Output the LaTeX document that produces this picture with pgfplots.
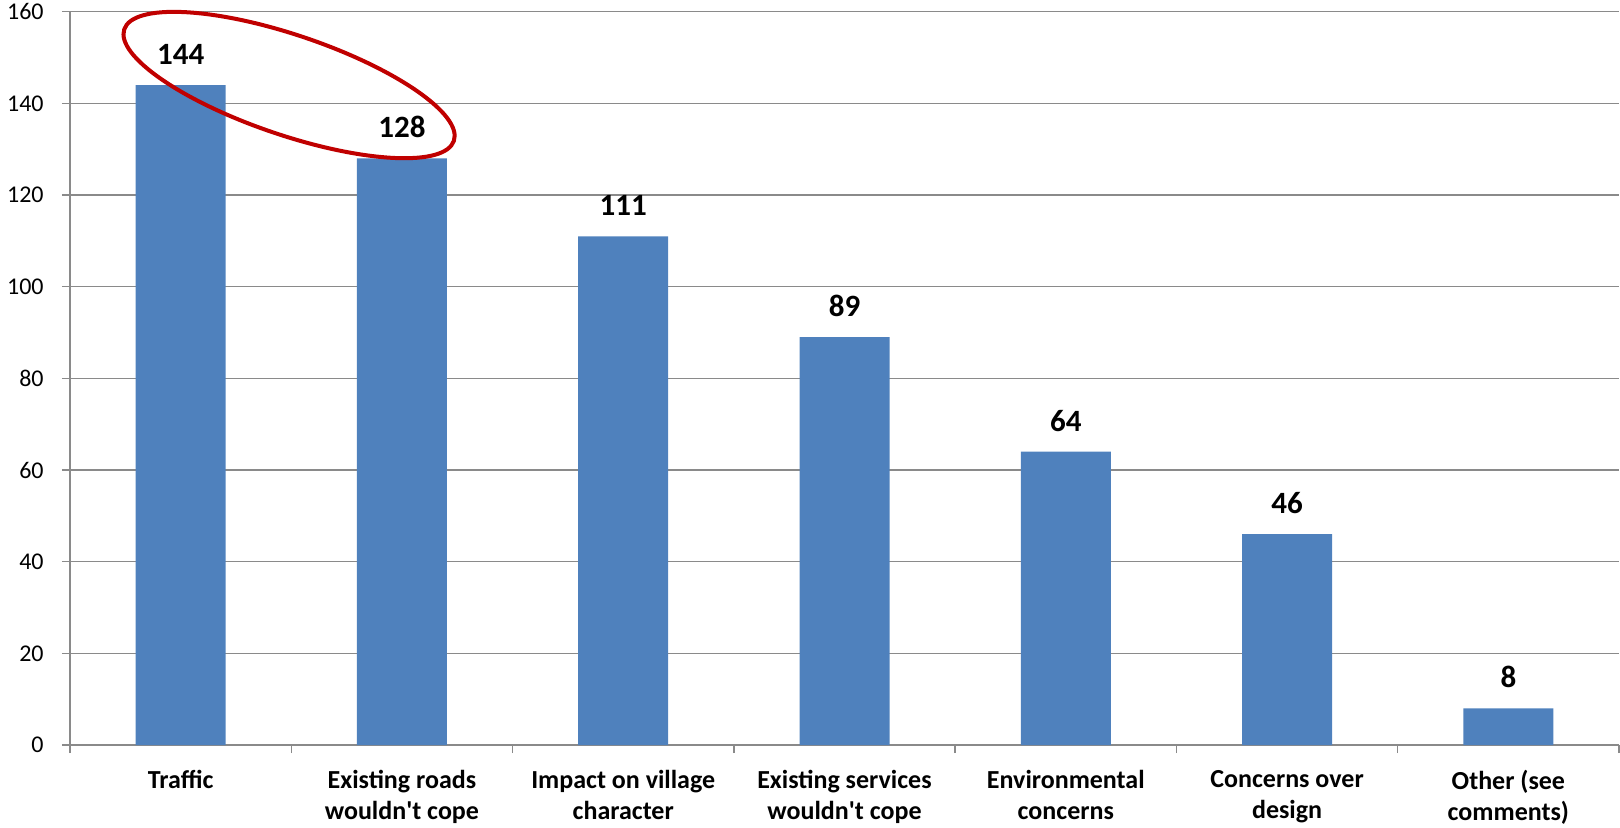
\documentclass[border=0pt]{standalone}
\usepackage{fontspec}
\setmainfont{Carlito}
\usepackage{pgfplots}
\pgfplotsset{compat=1.18}
\definecolor{barblue}{HTML}{4F81BD}
\definecolor{gridgray}{HTML}{8A8A8A}
\definecolor{ringred}{HTML}{C00000}
\begin{document}
\begin{tikzpicture}
\begin{axis}[
    scale only axis,
    width=774.5pt, height=366.7pt,
    ybar, bar width=45pt,
    xmin=-0.5, xmax=6.5,
    ymin=0, ymax=160,
    ytick={0,20,...,160},
    xtick={0,...,6},
    xticklabels={Traffic,
        Existing roads\\wouldn\textquotesingle t cope,
        Impact on village\\character,
        Existing services\\wouldn\textquotesingle t cope,
        Environmental\\concerns,
        Concerns over\\design,
        Other (see\\comments)},
    minor xtick={-0.5,0.5,...,6.5},
    major x tick style={draw=none},
    axis x line*=bottom, axis y line*=left,
    axis line style={gridgray, line width=0.75pt},
    ymajorgrids, grid style={gridgray, line width=0.75pt},
    tick align=outside,
    tick style={gridgray, line width=0.75pt},
    major tick length=4pt, minor tick length=4pt,
    /pgf/number format/assume math mode=true,
    yticklabel style={font=\fontsize{12}{14}\selectfont, anchor=east, inner sep=0pt, xshift=-9pt},
    xticklabel style={font=\bfseries\fontsize{13}{15.5}\selectfont, align=center, anchor=north, inner sep=0pt, yshift=-8.4pt},
    nodes near coords,
    every node near coord/.append style={font=\bfseries\fontsize{15.5}{18}\selectfont, black, inner sep=0pt, anchor=south, yshift=10pt},
]
\addplot[fill=barblue, draw=none] coordinates {(0,144) (1,128) (2,111) (3,89) (4,64) (5,46) (6,8)};
\coordinate (ec) at (axis cs:0.49,144);
\end{axis}
\draw[ringred, line width=2pt, rotate around={-18.7:(ec)}] (ec) ellipse (87pt and 25pt);
\pgfresetboundingbox
\path ([xshift=-35pt,yshift=-41pt]current axis.south west) rectangle ([xshift=0.5pt,yshift=5.85pt]current axis.north east);
\end{tikzpicture}
\end{document}
